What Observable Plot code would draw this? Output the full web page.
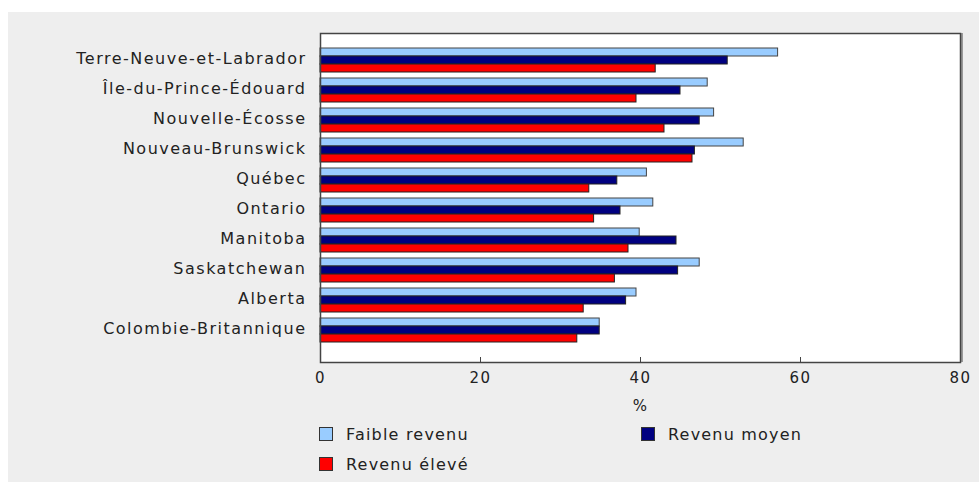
<!DOCTYPE html>
<html>
<head>
<meta charset="utf-8">
<script src="https://cdn.jsdelivr.net/npm/d3@7"></script>
<script src="https://cdn.jsdelivr.net/npm/@observablehq/plot@0.6"></script>
<style>
  html, body { margin: 0; padding: 0; background: #ffffff; width: 979px; height: 482px; overflow: hidden; }
  #bg { position: absolute; left: 8px; top: 12px; right: 0; bottom: 0; background: #eeeeee; z-index: 0; }
  #chart { position: absolute; left: 0; top: 0; z-index: 1; }
  #legend { position: absolute; left: 319px; top: 419px; z-index: 1;
    display: grid; grid-template-columns: 322px auto; grid-auto-rows: 30px;
    font-family: "DejaVu Sans", sans-serif; font-size: 16px; letter-spacing: 1.2px; color: #222; }
  .item { display: flex; align-items: center; }
  .sw { width: 14px; height: 14px; border: 1px solid #333; box-sizing: border-box; margin-right: 13px; }
</style>
</head>
<body>
<div id="bg"></div>
<div id="chart"></div>
<div id="legend"></div>
<script>
const provinces = ["Terre-Neuve-et-Labrador","Île-du-Prince-Édouard","Nouvelle-Écosse","Nouveau-Brunswick","Québec","Ontario","Manitoba","Saskatchewan","Alberta","Colombie-Britannique"];
const faible = [57.2, 48.4, 49.2, 52.9, 40.8, 41.6, 39.9, 47.4, 39.5, 34.9];
const moyen  = [50.9, 45.0, 47.4, 46.8, 37.1, 37.5, 44.5, 44.7, 38.2, 34.9];
const eleve  = [41.9, 39.5, 43.0, 46.5, 33.6, 34.2, 38.5, 36.8, 32.9, 32.1];
const series = ["Faible revenu", "Revenu moyen", "Revenu élevé"];
const colors = ["#99ccff", "#000080", "#ff0000"];
const xTicks = [0, 20, 40, 60, 80];

const rows = (vals) => provinces.map((p, i) => ({province: p, value: vals[i]}));
const dataF = rows(faible), dataM = rows(moyen), dataE = rows(eleve);

const chart = Plot.plot({
  width: 979,
  height: 415,
  marginLeft: 320,
  marginRight: 19,
  marginTop: 33,
  marginBottom: 53,
  style: { fontFamily: "DejaVu Sans, sans-serif", fontSize: "16px", letterSpacing: "1.5px", color: "#222", background: "transparent" },
  x: { domain: [0, 80] },
  y: { domain: provinces, paddingInner: 0.2, paddingOuter: 0.57, align: 0.42 },
  marks: [
    Plot.frame({ fill: "white", stroke: "none" }),
    Plot.barX(dataF, { x: "value", y: "province", fill: colors[0], stroke: "#444", strokeWidth: 1, insetTop: 0, insetBottom: 16 }),
    Plot.barX(dataM, { x: "value", y: "province", fill: colors[1], stroke: "#222", strokeWidth: 1, insetTop: 8, insetBottom: 8 }),
    Plot.barX(dataE, { x: "value", y: "province", fill: colors[2], stroke: "#222", strokeWidth: 1, insetTop: 16, insetBottom: 0 }),
    Plot.ruleX([80], { stroke: "#999", strokeWidth: 3, dx: 1 }),
    Plot.frame({ stroke: "#444", strokeWidth: 1.5 }),
    Plot.axisY({ tickSize: 0, tickPadding: 14, label: null, dy: -2 }),
    Plot.axisX({ ticks: xTicks, tickSize: -5, tickPadding: 15, tickFormat: d => String(d), stroke: "#444",
      fontSize: 15, label: "%", labelAnchor: "center", labelArrow: "none", labelOffset: 48 })
  ]
});
document.getElementById("chart").appendChild(chart);

const legend = document.getElementById("legend");
series.forEach((s, i) => {
  const item = document.createElement("div");
  item.className = "item";
  const sw = document.createElement("span");
  sw.className = "sw";
  sw.style.background = colors[i];
  const t = document.createElement("span");
  t.textContent = s;
  item.appendChild(sw);
  item.appendChild(t);
  legend.appendChild(item);
});
</script>
</body>
</html>
